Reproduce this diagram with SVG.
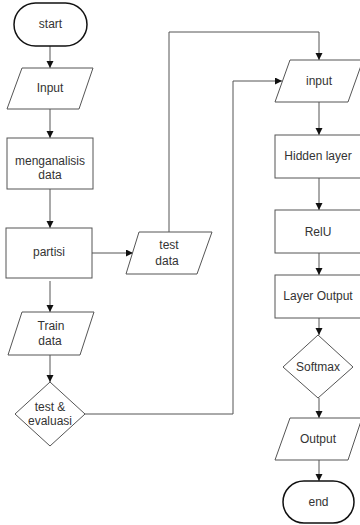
<svg xmlns="http://www.w3.org/2000/svg" width="360" height="525" viewBox="0 0 360 525">
<style>
.n{fill:#fff;stroke:#555;stroke-width:1}
.t{fill:#fff;stroke:#111;stroke-width:1.5}
.c{fill:none;stroke:#555;stroke-width:1}
text{font-family:"Liberation Sans",Arial,sans-serif;font-size:12px;fill:#333;text-anchor:middle;dominant-baseline:central}
</style>
<defs>
<marker id="ah" markerUnits="userSpaceOnUse" markerWidth="8" markerHeight="8" refX="7" refY="3.5" orient="auto">
<path d="M0,0 L7,3.5 L0,7 z" fill="#111"/>
</marker>
</defs>
<rect width="360" height="525" fill="#fff"/>
<g id="connectors">
<path class="c" d="M50,46 V68" marker-end="url(#ah)"/>
<path class="c" d="M50,109 V138" marker-end="url(#ah)"/>
<path class="c" d="M50,189 V228" marker-end="url(#ah)"/>
<path class="c" d="M50,281 V312" marker-end="url(#ah)"/>
<path class="c" d="M50,355 V382" marker-end="url(#ah)"/>
<path class="c" d="M92,253 H133" marker-end="url(#ah)"/>
<path class="c" d="M169,232 V32 H319 V60" marker-end="url(#ah)"/>
<path class="c" d="M85,414 H233 V81 H282" marker-end="url(#ah)"/>
<path class="c" d="M319,102 V135" marker-end="url(#ah)"/>
<path class="c" d="M319,178 V210" marker-end="url(#ah)"/>
<path class="c" d="M319,253 V275" marker-end="url(#ah)"/>
<path class="c" d="M319,318 V335" marker-end="url(#ah)"/>
<path class="c" d="M319,398 V418" marker-end="url(#ah)"/>
<path class="c" d="M319,460 V481" marker-end="url(#ah)"/>
</g>
<g id="start">
<rect class="t" x="14" y="3" width="73" height="43" rx="21.5"/>
<text x="50.5" y="24">start</text>
</g>
<g id="input1">
<polygon class="n" points="22,68 93,68 79,109 7,109"/>
<text x="50" y="88">Input</text>
</g>
<g id="menganalisis">
<rect class="n" x="7" y="138" width="86" height="51"/>
<text x="50" y="161">menganalisis</text>
<text x="50" y="175">data</text>
</g>
<g id="partisi">
<rect class="n" x="6" y="228" width="86" height="50"/>
<text x="49" y="252">partisi</text>
</g>
<g id="testdata">
<polygon class="n" points="139,232 212,232 197,274 126,274"/>
<text x="169" y="245">test</text>
<text x="167" y="261">data</text>
</g>
<g id="traindata">
<polygon class="n" points="22,312 94,312 80,355 8,355"/>
<text x="51" y="326">Train</text>
<text x="50" y="341">data</text>
</g>
<g id="testevaluasi">
<polygon class="n" points="50,382 85,414 50,446 15,414"/>
<text x="50" y="407">test &amp;</text>
<text x="50" y="421">evaluasi</text>
</g>
<g id="input2">
<polygon class="n" points="290,60 363,60 348,102 275,102"/>
<text x="319" y="81">input</text>
</g>
<g id="hidden">
<rect class="n" x="275" y="135" width="87" height="43"/>
<text x="318" y="156">Hidden layer</text>
</g>
<g id="relu">
<rect class="n" x="275" y="210" width="87" height="43"/>
<text x="318" y="232">RelU</text>
</g>
<g id="layeroutput">
<rect class="n" x="275" y="275" width="87" height="43"/>
<text x="318" y="296">Layer Output</text>
</g>
<g id="softmax">
<polygon class="n" points="318,335 353,367 318,398 283,367"/>
<text x="318" y="367">Softmax</text>
</g>
<g id="output">
<polygon class="n" points="290,418 362,418 348,460 275,460"/>
<text x="318" y="439">Output</text>
</g>
<g id="end">
<rect class="t" x="283" y="481" width="71" height="42" rx="21"/>
<text x="318.5" y="502">end</text>
</g>
</svg>
